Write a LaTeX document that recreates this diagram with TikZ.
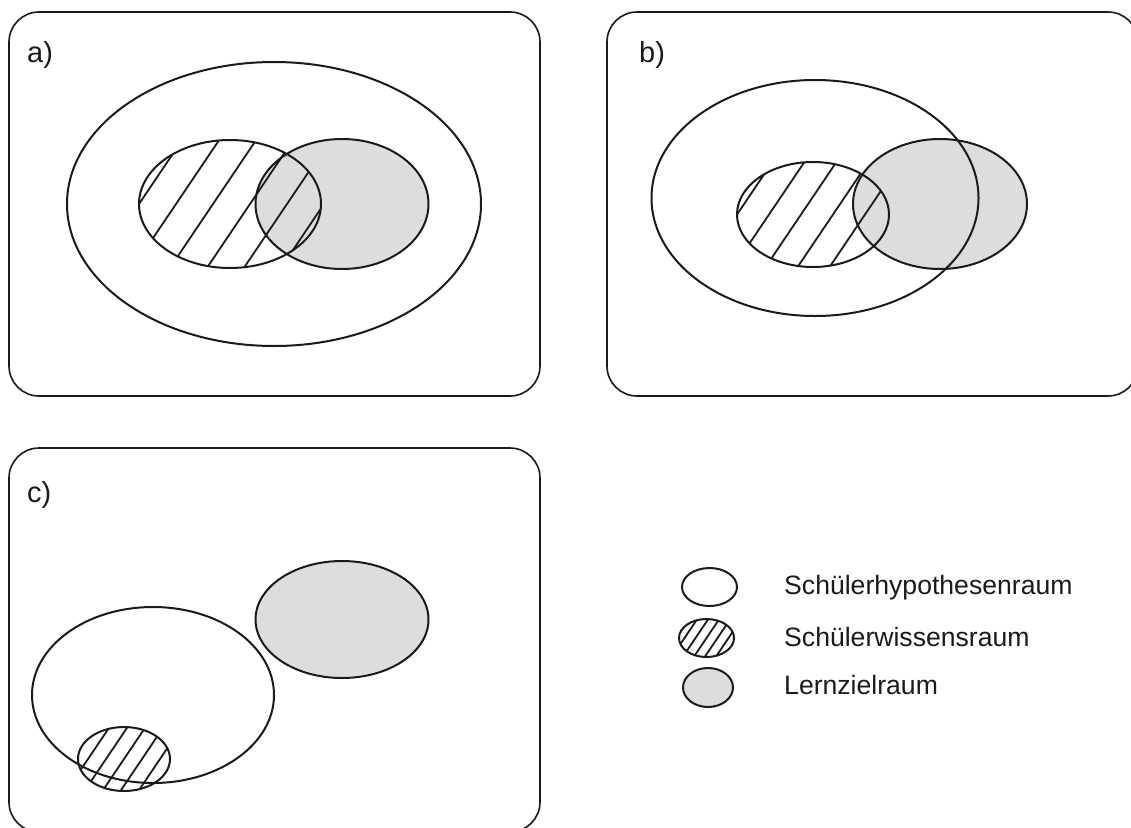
\documentclass[tikz,border=0pt]{standalone}
\usepackage{fontspec}
\setmainfont{Liberation Sans}
\usetikzlibrary{calc}
\definecolor{lgray}{RGB}{221,221,221}
\definecolor{inkc}{RGB}{30,25,25}
\tikzset{
  panelbox/.style={draw=inkc, line width=1.6pt, rounded corners=30pt},
  ell/.style={draw=inkc, line width=2pt},
  grayell/.style={fill=lgray},
  hatchline/.style={draw=inkc, line width=1.8pt, line cap=round},
  lbl/.style={anchor=base west, inner sep=0pt, text=inkc, font=\fontsize{29}{32}\selectfont},
  legtext/.style={anchor=base west, inner sep=0pt, text=inkc, font=\fontsize{26.6}{30}\selectfont}
}
% cx cy rx ry spacing phase
\newcommand\hatchE[6]{%
  \begin{scope}
    \clip (#1,#2) ellipse [x radius=#3, y radius=#4];
    \foreach \k in {-9,...,9}{
      \draw[hatchline] ({#1+\k*#5+#6-0.559*1.4*#4},{#2+0.829*1.4*#4}) -- ({#1+\k*#5+#6+0.559*1.4*#4},{#2-0.829*1.4*#4});
    }
  \end{scope}}
\begin{document}
\begin{tikzpicture}[x=1pt,y=-1pt]
\useasboundingbox (0,0) rectangle (1131,827);

% ---------- panel a ----------
\draw[panelbox] (9,12) rectangle (540,396);
\node[lbl] (la) at (27,62) {a)};
\fill[grayell] (342,204) ellipse [x radius=86.5, y radius=65];
\hatchE{230}{204}{91}{64}{37}{20}
\draw[ell] (274,204) ellipse [x radius=207, y radius=142];
\draw[ell] (342,204) ellipse [x radius=86.5, y radius=65];
\draw[ell] (230,204) ellipse [x radius=91, y radius=64];

% ---------- panel b ----------
\draw[panelbox] (607,12) rectangle (1138,396);
\node[lbl] (lb) at (639,62) {b)};
\fill[grayell] (940,204) ellipse [x radius=87, y radius=65];
\hatchE{813}{214.5}{76}{52.5}{32}{-12}
\draw[ell] (815,198) ellipse [x radius=163.5, y radius=118];
\draw[ell] (940,204) ellipse [x radius=87, y radius=65];
\draw[ell] (813,214.5) ellipse [x radius=76, y radius=52.5];

% ---------- panel c ----------
\draw[panelbox] (9,448) rectangle (540,832);
\node[lbl] (lc) at (27,502) {c)};
\fill[grayell] (342,619.5) ellipse [x radius=86.5, y radius=58.5];
\draw[ell] (342,619.5) ellipse [x radius=86.5, y radius=58.5];
\draw[ell] (153,695) ellipse [x radius=121, y radius=88];
\hatchE{124}{759}{46}{32}{18}{0}
\draw[ell] (124,759) ellipse [x radius=46, y radius=32];

% ---------- legend ----------
\draw[ell] (709.5,587) ellipse [x radius=27.5, y radius=19];
\hatchE{706.5}{638}{27.5}{19}{11}{0}
\draw[ell] (706.5,638) ellipse [x radius=27.5, y radius=19];
\fill[grayell] (708,687.5) ellipse [x radius=25, y radius=19.5];
\draw[ell] (708,687.5) ellipse [x radius=25, y radius=19.5];
\node[legtext] (t1) at (784,594) {Schülerhypothesenraum};
\node[legtext] (t2) at (784,646) {Schülerwissensraum};
\node[legtext] (t3) at (784,694) {Lernzielraum};
\end{tikzpicture}
\end{document}
